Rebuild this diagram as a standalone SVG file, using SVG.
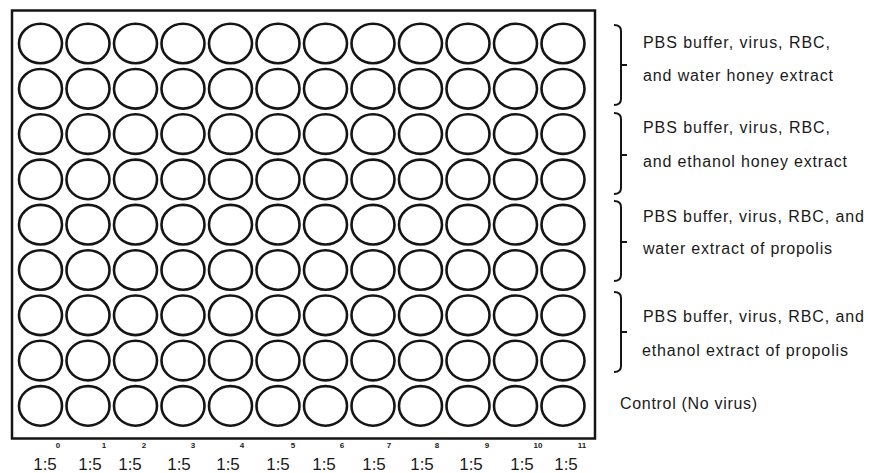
<svg xmlns="http://www.w3.org/2000/svg" width="870" height="473" viewBox="0 0 870 473">
<defs>
<style>
.frame{fill:none;stroke:#151515;stroke-width:2.5}
.well{fill:none;stroke:#151515;stroke-width:2.6}
.br{fill:none;stroke:#151515;stroke-width:2}
.lbl{font-family:"Liberation Sans",Arial,sans-serif;font-size:16px;fill:#1a1a1a}
.dil{font-family:"Liberation Sans",Arial,sans-serif;font-size:17px;fill:#1a1a1a;text-anchor:middle}
.num{font-family:"Liberation Sans",Arial,sans-serif;font-size:8px;font-weight:bold;fill:#1a1a1a;text-anchor:middle}
</style>
<ellipse id="w" cx="0" cy="0" rx="21.5" ry="19.8" class="well"/>
<g id="row">
<use href="#w" x="40.5"/><use href="#w" x="88"/><use href="#w" x="135.5"/><use href="#w" x="183"/><use href="#w" x="230.5"/><use href="#w" x="278"/><use href="#w" x="325.5"/><use href="#w" x="373"/><use href="#w" x="420.5"/><use href="#w" x="468"/><use href="#w" x="515.5"/><use href="#w" x="563"/>
</g>
</defs>
<rect width="870" height="473" fill="#ffffff"/>
<g id="plate">
<rect x="12" y="10.5" width="583" height="428" class="frame"/>
<use href="#row" y="43.5"/>
<use href="#row" y="88.8"/>
<use href="#row" y="134.1"/>
<use href="#row" y="179.4"/>
<use href="#row" y="224.7"/>
<use href="#row" y="270"/>
<use href="#row" y="315.3"/>
<use href="#row" y="360.6"/>
<use href="#row" y="405.9"/>
</g>
<g id="column-numbers">
<text class="num" x="58" y="448">0</text>
<text class="num" x="104" y="448">1</text>
<text class="num" x="144" y="448">2</text>
<text class="num" x="193" y="448">3</text>
<text class="num" x="242" y="448">4</text>
<text class="num" x="293" y="448">5</text>
<text class="num" x="342" y="448">6</text>
<text class="num" x="389" y="448">7</text>
<text class="num" x="437" y="448">8</text>
<text class="num" x="487" y="448">9</text>
<text class="num" x="538" y="448">10</text>
<text class="num" x="582" y="448">11</text>
</g>
<g id="dilutions">
<text class="dil" x="45" y="470">1:5</text>
<text class="dil" x="90" y="470">1:5</text>
<text class="dil" x="130" y="470">1:5</text>
<text class="dil" x="179" y="470">1:5</text>
<text class="dil" x="228" y="470">1:5</text>
<text class="dil" x="278" y="470">1:5</text>
<text class="dil" x="324" y="470">1:5</text>
<text class="dil" x="374" y="470">1:5</text>
<text class="dil" x="422" y="470">1:5</text>
<text class="dil" x="471" y="470">1:5</text>
<text class="dil" x="522" y="470">1:5</text>
<text class="dil" x="566" y="470">1:5</text>
</g>
<g id="connectors">
<path class="br" d="M614 25 Q621 25 621 31 V99 Q621 105 614 105 M621 65 H627"/>
<path class="br" d="M614 113 Q621 113 621 119 V188 Q621 194 614 194 M621 155 H627"/>
<path class="br" d="M614 201 Q621 201 621 207 V275 Q621 281 614 281 M621 242 H627"/>
<path class="br" d="M614 292 Q621 292 621 298 V366 Q621 372 614 372 M621 332 H627"/>
</g>
<g id="group-water-honey">
<text class="lbl" x="643" y="48" textLength="187" lengthAdjust="spacing">PBS buffer, virus, RBC,</text>
<text class="lbl" x="643" y="81" textLength="190" lengthAdjust="spacing">and water honey extract</text>
</g>
<g id="group-ethanol-honey">
<text class="lbl" x="643" y="133" textLength="187" lengthAdjust="spacing">PBS buffer, virus, RBC,</text>
<text class="lbl" x="643" y="167" textLength="204" lengthAdjust="spacing">and ethanol honey extract</text>
</g>
<g id="group-water-propolis">
<text class="lbl" x="643" y="222" textLength="221" lengthAdjust="spacing">PBS buffer, virus, RBC, and</text>
<text class="lbl" x="643" y="254" textLength="189" lengthAdjust="spacing">water extract of propolis</text>
</g>
<g id="group-ethanol-propolis">
<text class="lbl" x="643" y="322" textLength="221" lengthAdjust="spacing">PBS buffer, virus, RBC, and</text>
<text class="lbl" x="642" y="356" textLength="206" lengthAdjust="spacing">ethanol extract of propolis</text>
</g>
<g id="group-control">
<text class="lbl" x="620" y="409" textLength="137" lengthAdjust="spacing">Control (No virus)</text>
</g>
</svg>
